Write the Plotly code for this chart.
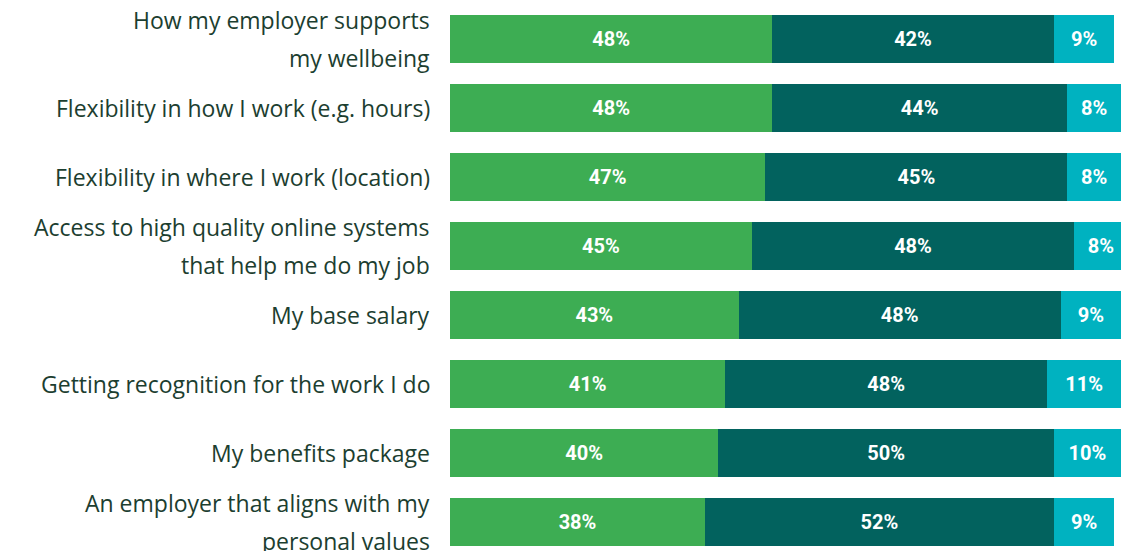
import plotly.graph_objects as go

# Survey items (top to bottom) and share of respondents per response group
categories = [
    "How my employer supports<br>my wellbeing",
    "Flexibility in how I work (e.g. hours)",
    "Flexibility in where I work (location)",
    "Access to high quality online systems<br>that help me do my job",
    "My base salary",
    "Getting recognition for the work I do",
    "My benefits package",
    "An employer that aligns with my<br>personal values",
]
series_a = [48, 48, 47, 45, 43, 41, 40, 38]
series_b = [42, 44, 45, 48, 48, 48, 50, 52]
series_c = [9, 8, 8, 8, 9, 11, 10, 9]

colors = ["#3dad53", "#02625e", "#00b2c0"]
text_color = "#1c3e30"

fig = go.Figure()
for vals, col, name in zip([series_a, series_b, series_c], colors, ["A", "B", "C"]):
    fig.add_trace(go.Bar(
        y=categories, x=vals, orientation="h", name=name,
        marker=dict(color=col, line=dict(width=0)),
        text=[f"{v}%" for v in vals], textposition="inside",
        insidetextanchor="middle",
        textfont=dict(family="Roboto", size=20, color="white", weight="bold"),
        width=48 / 69,
    ))

# Category labels, one annotation per text line for wide line spacing
annotations = []
for cat in categories:
    lines = cat.split("<br>")
    n = len(lines)
    for i, line in enumerate(lines):
        offset = (i - (n - 1) / 2) * 37.5
        annotations.append(dict(
            x=0, xref="paper", xanchor="right", xshift=-18,
            y=cat, yref="y", yanchor="middle", yshift=-offset,
            text=line, showarrow=False,
            font=dict(family="Open Sans", size=23, color=text_color),
        ))

fig.update_layout(
    width=1125, height=551,
    margin=dict(l=450, r=4, t=5, b=0),
    barmode="stack",
    showlegend=False,
    plot_bgcolor="white", paper_bgcolor="white",
    uniformtext=dict(minsize=10, mode="show"),
    xaxis=dict(range=[0, 100], visible=False, fixedrange=True),
    yaxis=dict(
        type="category", categoryorder="array", categoryarray=categories,
        range=[7.42, -0.4928], showticklabels=False, showgrid=False,
        zeroline=False, fixedrange=True,
    ),
    annotations=annotations,
)

fig.write_html("out.html")
